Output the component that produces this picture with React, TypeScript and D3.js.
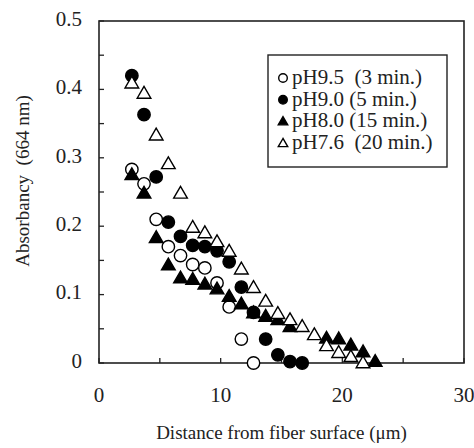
import React from "react";
import * as d3 from "d3";

const xTicksLabeled = [0, 10, 20, 30];
const yTicksLabeled = [0, 0.1, 0.2, 0.3, 0.4, 0.5];
const yTickLabels = ["0", "0.1", "0.2", "0.3", "0.4", "0.5"];

const ph95X = [2.7, 3.7, 4.7, 5.7, 6.7, 7.7, 8.7, 9.7, 10.7, 11.7, 12.7];
const ph95Y = [0.283, 0.262, 0.21, 0.17, 0.157, 0.144, 0.139, 0.117, 0.082, 0.035, 0.0];

const ph90X = [2.7, 3.7, 4.7, 5.7, 6.7, 7.7, 8.7, 9.7, 10.7, 11.7, 12.7, 13.7, 14.7, 15.7, 16.7];
const ph90Y = [0.42, 0.363, 0.272, 0.206, 0.185, 0.172, 0.17, 0.164, 0.148, 0.111, 0.074, 0.035, 0.012, 0.002, 0.0];

const ph80X = [2.7, 3.7, 4.7, 5.7, 6.7, 7.7, 8.7, 9.7, 10.7, 11.7, 12.7, 13.7, 14.7, 15.7, 18.7, 19.7, 20.7, 21.7, 22.7];
const ph80Y = [0.275, 0.248, 0.183, 0.143, 0.124, 0.122, 0.115, 0.108, 0.097, 0.086, 0.073, 0.068, 0.063, 0.053, 0.036, 0.035, 0.026, 0.016, 0.002];

const ph76X = [2.7, 3.7, 4.7, 5.7, 6.7, 7.7, 8.7, 9.7, 10.7, 11.7, 12.7, 13.7, 14.7, 15.7, 16.7, 17.7, 18.7, 19.7, 20.7, 21.7];
const ph76Y = [0.409, 0.394, 0.333, 0.291, 0.248, 0.198, 0.19, 0.177, 0.163, 0.137, 0.11, 0.09, 0.072, 0.063, 0.053, 0.041, 0.025, 0.015, 0.009, 0.0];

const legendLabels = ["pH9.5\u2002(3 min.)", "pH9.0 (5 min.)", "pH8.0 (15 min.)", "pH7.6\u2002(20 min.)"];
const xTitle = "Distance from fiber surface (μm)";
const yTitle = "Absorbancy\u2002(664 nm)";

const W = 474;
const H = 448;
const M = { left: 99, right: 464, top: 21, bottom: 363 };
const FONT = "'Liberation Serif', 'Times New Roman', serif";

type Kind = "openCircle" | "filledCircle" | "filledTri" | "openTri";

function Marker({ kind, x, y, s }: { kind: Kind; x: number; y: number; s: number }) {
  if (kind === "openCircle" || kind === "filledCircle") {
    return (
      <circle
        cx={x}
        cy={y}
        r={s}
        fill={kind === "filledCircle" ? "#000" : "#fff"}
        stroke="#000"
        strokeWidth={1.4}
      />
    );
  }
  const h = s * 1.9;
  const half = s * 1.1;
  const pts = `${x},${y - h * 0.6} ${x - half},${y + h * 0.4} ${x + half},${y + h * 0.4}`;
  return (
    <polygon
      points={pts}
      fill={kind === "filledTri" ? "#000" : "#fff"}
      stroke="#000"
      strokeWidth={1.4}
      strokeLinejoin="miter"
    />
  );
}

export default function App() {
  const x = d3.scaleLinear().domain([0, 30]).range([M.left, M.right]);
  const y = d3.scaleLinear().domain([0, 0.5]).range([M.bottom, M.top]);

  const xMinor = d3.range(0, 30.01, 5);
  const yMinor = d3.range(0, 0.501, 0.05);

  const series: { kind: Kind; xs: number[]; ys: number[] }[] = [
    { kind: "openCircle", xs: ph95X, ys: ph95Y },
    { kind: "filledCircle", xs: ph90X, ys: ph90Y },
    { kind: "filledTri", xs: ph80X, ys: ph80Y },
    { kind: "openTri", xs: ph76X, ys: ph76Y },
  ];
  const legendKinds: Kind[] = ["openCircle", "filledCircle", "filledTri", "openTri"];

  const lg = { x: 268, y: 55, w: 179, h: 112 };

  return (
    <svg
      width={W}
      height={H}
      style={{ position: "absolute", left: 0, top: 0, background: "#fff" }}
      fontFamily={FONT}
    >
      <rect x={0} y={0} width={W} height={H} fill="#fff" />
      <rect
        x={M.left}
        y={M.top}
        width={M.right - M.left}
        height={M.bottom - M.top}
        fill="none"
        stroke="#222"
        strokeWidth={1.6}
      />
      {xMinor.map((t) => (
        <line key={"xt" + t} x1={x(t)} x2={x(t)} y1={M.bottom} y2={M.bottom - 5} stroke="#222" strokeWidth={1.3} />
      ))}
      {yMinor.map((t) => (
        <line key={"yt" + t} x1={M.left} x2={M.left + 5} y1={y(t)} y2={y(t)} stroke="#222" strokeWidth={1.3} />
      ))}
      {xTicksLabeled.map((t) => (
        <text key={"xl" + t} x={x(t)} y={397} textAnchor="middle" dominantBaseline="middle" fontSize={21} fill="#222">
          {t}
        </text>
      ))}
      {yTicksLabeled.map((t, i) => (
        <text key={"yl" + t} x={82} y={y(t)} textAnchor="end" dominantBaseline="middle" fontSize={21} fill="#222">
          {yTickLabels[i]}
        </text>
      ))}
      <text x={(M.left + M.right) / 2} y={435} textAnchor="middle" dominantBaseline="middle" fontSize={19} fill="#222">
        {xTitle}
      </text>
      <text
        transform={`translate(25,181) rotate(-90)`}
        textAnchor="middle"
        dominantBaseline="middle"
        fontSize={19}
        fill="#222"
      >
        {yTitle}
      </text>

      {series.map((s) =>
        s.xs.map((xv, i) => (
          <Marker key={s.kind + i} kind={s.kind} x={x(xv)} y={y(s.ys[i])} s={6.2} />
        ))
      )}

      <rect x={lg.x} y={lg.y} width={lg.w} height={lg.h} fill="#fff" stroke="#222" strokeWidth={1.4} />
      {legendLabels.map((lab, i) => {
        const cy = 78 + i * 21.8;
        return (
          <g key={lab}>
            <Marker kind={legendKinds[i]} x={283} y={cy} s={4.3} />
            <text x={292} y={cy + 1} dominantBaseline="middle" fontSize={21} fill="#222">
              {lab}
            </text>
          </g>
        );
      })}
    </svg>
  );
}
